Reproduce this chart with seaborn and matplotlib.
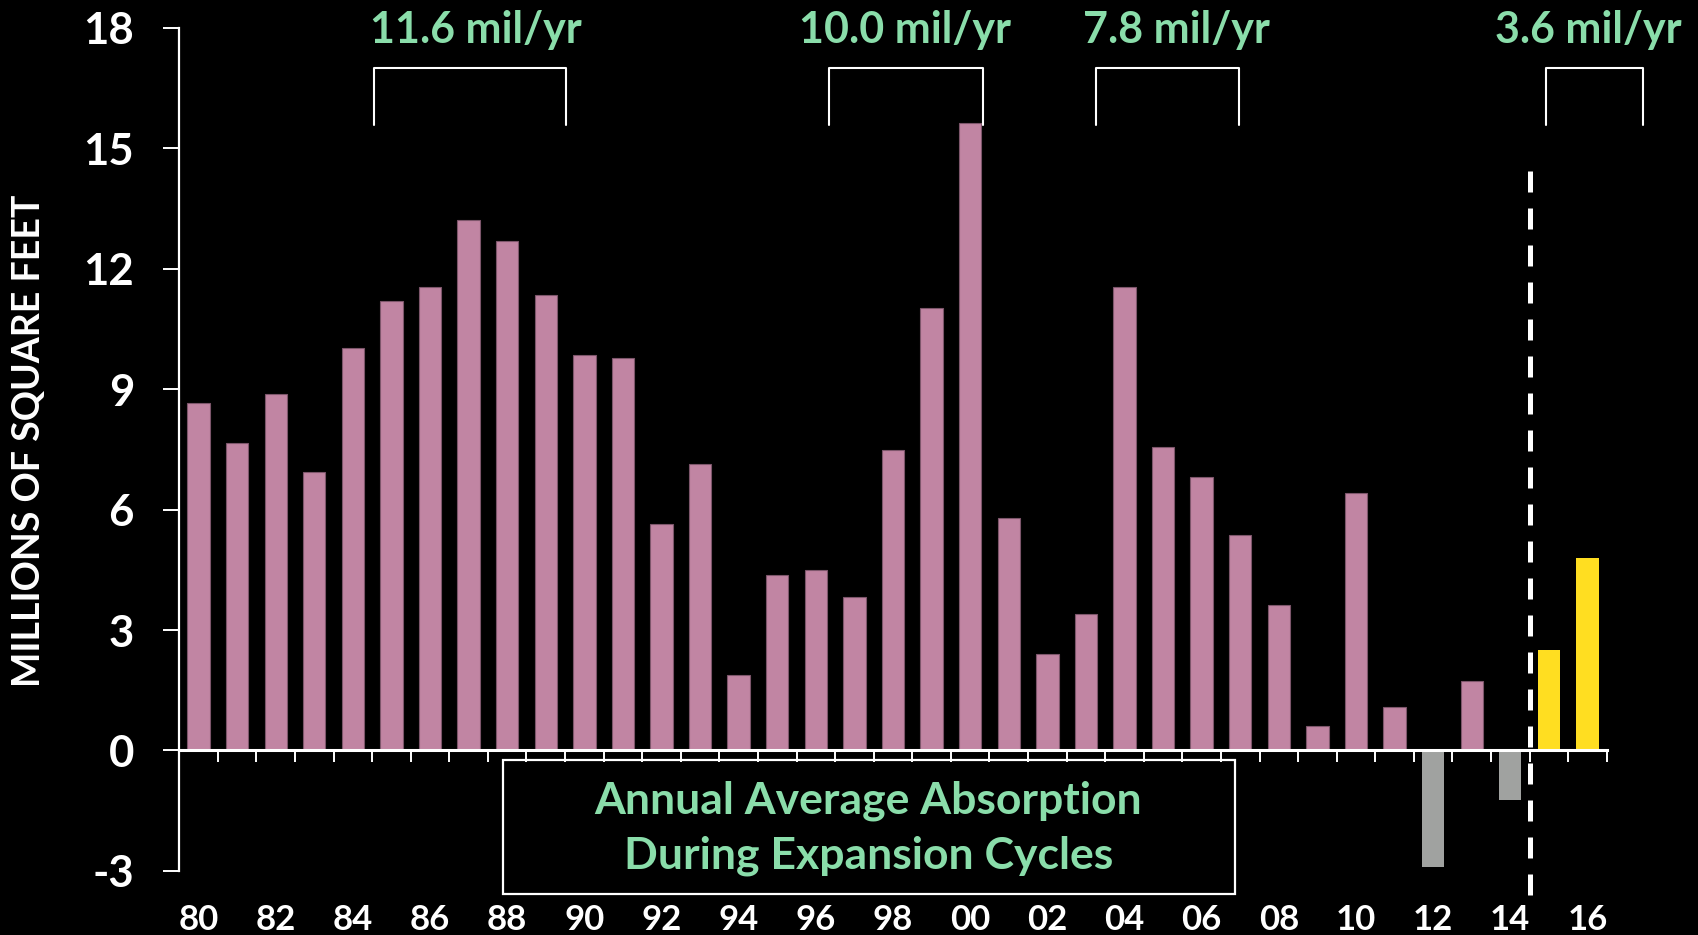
import matplotlib
matplotlib.use("Agg")
import matplotlib.pyplot as plt
import seaborn as sns
import pandas as pd
from matplotlib.patches import Rectangle

# ---------------- data ----------------
years = list(range(1980, 2017))
absorption = [8.66, 7.66, 8.87, 6.94, 10.03, 11.20, 11.55, 13.20, 12.70, 11.35,
              9.84, 9.77, 5.65, 7.13, 1.88, 4.37, 4.49, 3.83, 7.48, 11.03,
              15.63, 5.80, 2.40, 3.40, 11.55, 7.55, 6.80, 5.37, 3.62, 0.62,
              6.41, 1.08, -2.90, 1.73, -1.24, 2.51, 4.79]
bar_group = (["history"] * 32 + ["negative", "history", "negative"]
             + ["forecast", "forecast"])
x_labels = ["80", "82", "84", "86", "88", "90", "92", "94", "96", "98",
            "00", "02", "04", "06", "08", "10", "12", "14", "16"]
y_ticks = [-3, 0, 3, 6, 9, 12, 15, 18]
cycle_labels = ["11.6 mil/yr", "10.0 mil/yr", "7.8 mil/yr", "3.6 mil/yr"]
cycle_label_x = [7.18, 18.3, 25.34, 36.02]
cycle_spans = [(4.55, 9.53), (16.34, 20.33), (23.27, 26.98), (34.93, 37.43)]
box_lines = ["Annual Average Absorption", "During Expansion Cycles"]
y_title = "MILLIONS OF SQUARE FEET"

palette = {"history": "#C185A3", "negative": "#A0A2A0", "forecast": "#FFDE21"}
GREEN = "#8ADDAA"
FONT = ["Lato", "DejaVu Sans"]

df = pd.DataFrame({"year": [str(y) for y in years],
                   "value": absorption, "group": bar_group})

sns.set_theme(style="dark")
plt.rcParams["font.family"] = FONT
plt.rcParams["font.weight"] = "bold"

fig = plt.figure(figsize=(16.99, 9.35), dpi=100, facecolor="black")
ax = fig.add_axes([0.1055, 0.0685, 0.8402, 0.9018])
ax.set_facecolor("black")

sns.barplot(data=df, x="year", y="value", hue="group", palette=palette,
            dodge=False, width=0.58, legend=False, ax=ax, saturation=1,
            linewidth=0)
for p in ax.patches:
    fc = p.get_facecolor()
    if abs(fc[0] - 0xC1 / 255) < 0.02 and abs(fc[1] - 0x85 / 255) < 0.02:
        p.set_edgecolor("#7d566b")
        p.set_linewidth(0.8)

n = len(years)
ax.set_xlim(-0.5, n - 0.5)
ax.set_ylim(-3, 18)

# spines
for s in ["top", "right"]:
    ax.spines[s].set_visible(False)
ax.spines["left"].set_color("white")
ax.spines["left"].set_linewidth(1.6)
ax.spines["bottom"].set_position(("data", 0))
ax.spines["bottom"].set_color("white")
ax.spines["bottom"].set_linewidth(2.2)
ax.grid(False)

# y axis
ax.set_yticks(y_ticks)
ax.set_yticklabels([str(t) for t in y_ticks], fontsize=31.5, fontweight="bold",
                   color="white")
ax.tick_params(axis="y", direction="out", length=11.5, width=1.4,
               color="white", pad=21, left=True)
ax.set_ylabel(y_title, fontsize=27, fontweight="bold", color="white",
              va="center")
ax.yaxis.set_label_coords(-0.1056, 0.51)

# x axis: ticks between categories, labels below the plot
ax.set_xticks([i - 0.5 for i in range(n + 1)])
ax.set_xticklabels([])
ax.tick_params(axis="x", direction="out", length=8.4, width=1.4,
               color="white", bottom=True)
ax.set_xlabel("")
for k, lab in enumerate(x_labels):
    ax.text(2 * k, -4.22, lab, ha="center", va="center", fontsize=25,
            fontweight="bold", color="white", clip_on=False)

# forecast divider
ax.vlines(34.5, -3.6, 14.6, colors="white", linewidth=3.6,
          linestyles=(0, (4.2, 3.2)), clip_on=False, zorder=5)

# cycle brackets and labels
br_top, br_bottom = 17.0, 15.58
for (x0, x1), lab, lx in zip(cycle_spans, cycle_labels, cycle_label_x):
    ax.plot([x0, x0, x1, x1], [br_bottom, br_top, br_top, br_bottom],
            color="white", linewidth=1.5, clip_on=False)
    ax.text(lx, 17.62, lab, ha="center", va="baseline", fontsize=31,
            fontweight="bold", color=GREEN, clip_on=False)

# annotation box
bx0, bx1, by0, by1 = 7.88, 26.86, -3.57, -0.24
ax.add_patch(Rectangle((bx0, by0), bx1 - bx0, by1 - by0, facecolor="none",
                       edgecolor="white", linewidth=1.6, clip_on=False,
                       zorder=4))
ax.text(17.36, -1.56, box_lines[0], ha="center", va="baseline", fontsize=32,
        fontweight="bold", color=GREEN)
ax.text(17.36, -2.93, box_lines[1], ha="center", va="baseline", fontsize=32,
        fontweight="bold", color=GREEN)

fig.savefig("out.png", dpi=100, facecolor="black")
